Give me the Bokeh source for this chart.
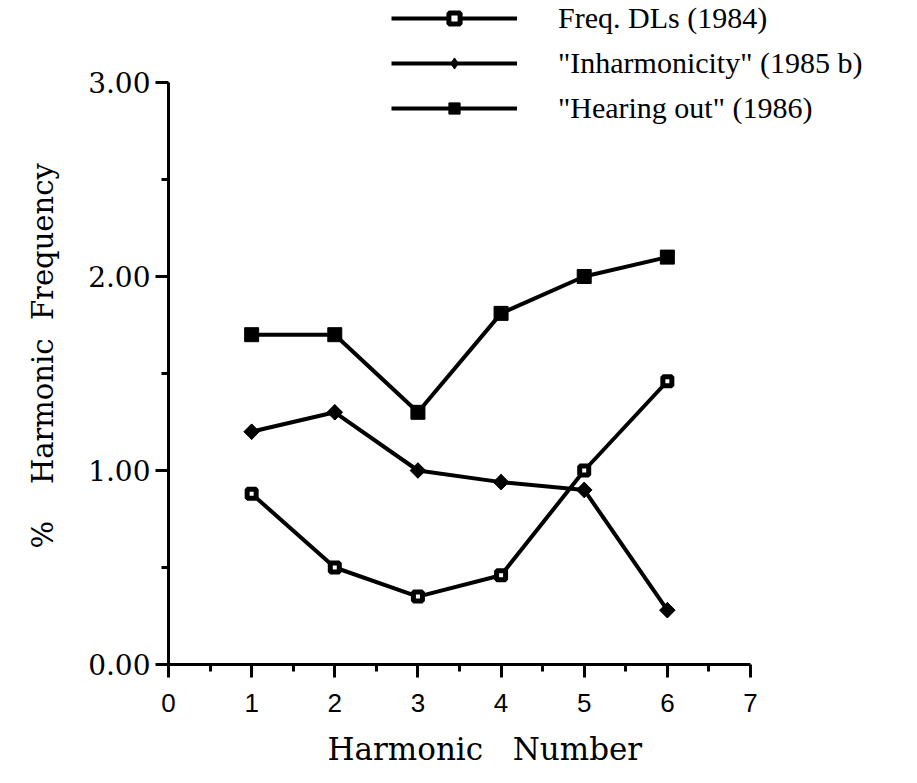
import math

from bokeh.plotting import figure
from bokeh.models import (Range1d, FixedTicker, Legend, LegendItem, Title,
                          NumeralTickFormatter, ColumnDataSource)
from bokeh.embed import file_html
from bokeh.resources import INLINE

# Harmonic number on the x axis, percent mistuning thresholds on the y axis
harmonic = [1, 2, 3, 4, 5, 6]
freq_dls = [0.88, 0.50, 0.35, 0.46, 1.00, 1.46]
inharmonicity = [1.20, 1.30, 1.00, 0.94, 0.90, 0.28]
hearing_out = [1.70, 1.70, 1.30, 1.81, 2.00, 2.10]

series_labels = ['Freq. DLs (1984)', '"Inharmonicity" (1985 b)', '"Hearing out" (1986)']
x_ticks = [0, 1, 2, 3, 4, 5, 6, 7]
x_minor = [0.5, 1.5, 2.5, 3.5, 4.5, 5.5, 6.5]
y_ticks = [0, 1, 2, 3]
y_minor = [0.5, 1.5, 2.5]
x_title = "Harmonic\u00a0\u00a0\u00a0Number"
y_title = "%\u00a0\u00a0\u00a0\u00a0Harmonic\u00a0\u00a0Frequency"

W, H = 917, 783
LEFT, BOTTOM = 168, 119          # frame offsets in pixels
X_AXIS_END, Y_AXIS_END = 7, 3    # axes are drawn only up to these values
PX_PER_X = 582 / 7               # frame scale, pixels per harmonic
PX_PER_Y = 582 / 3               # frame scale, pixels per percent

frame_w = W - LEFT
frame_h = H - BOTTOM

src = ColumnDataSource(dict(x=harmonic, fdl=freq_dls, inh=inharmonicity, hear=hearing_out))

# The frame reaches the top and right edges so the legend can sit above the
# plotted area; the axes themselves stop at 7 and 3.00.
p = figure(width=W, height=H, output_backend="svg", toolbar_location=None,
           title=None,
           x_range=Range1d(0, frame_w / PX_PER_X),
           y_range=Range1d(0, frame_h / PX_PER_Y),
           min_border_left=LEFT, min_border_right=0,
           min_border_top=0, min_border_bottom=BOTTOM)
p.outline_line_color = None
p.xgrid.visible = False
p.ygrid.visible = False
p.background_fill_color = "white"
p.border_fill_color = "white"

LW = 4

r1l = p.line("x", "fdl", source=src, line_color="black", line_width=LW)
r1m = p.scatter("x", "fdl", source=src, marker="square", size=9,
                fill_color="white", line_color="black", line_width=5)

r2l = p.line("x", "inh", source=src, line_color="black", line_width=LW)
# a square turned 45 degrees gives the broad diamond; the narrower diamond
# marker inside it is the one the legend shows
p.scatter("x", "inh", source=src, marker="square", size=11, angle=math.pi / 4,
          fill_color="black", line_color="black", line_width=1)
r2m = p.scatter("x", "inh", source=src, marker="diamond", size=15,
                fill_color="black", line_color="black", line_width=1)

r3l = p.line("x", "hear", source=src, line_color="black", line_width=LW)
r3m = p.scatter("x", "hear", source=src, marker="square", size=14,
                fill_color="black", line_color="black", line_width=1)

# axes
for ax in (p.xaxis[0], p.yaxis[0]):
    ax.axis_line_width = 3
    ax.axis_line_color = "black"
    ax.major_tick_line_width = 3
    ax.minor_tick_line_width = 3
    ax.major_tick_line_color = "black"
    ax.minor_tick_line_color = "black"
    ax.major_tick_in = 0
    ax.minor_tick_in = 0
    ax.major_tick_out = 13
    ax.minor_tick_out = 7
    ax.major_label_text_color = "black"

p.xaxis.bounds = (0, X_AXIS_END)
p.xaxis.ticker = FixedTicker(ticks=x_ticks, minor_ticks=x_minor)
p.xaxis.major_label_text_font = "Liberation Sans"
p.xaxis.major_label_text_font_size = "26px"
p.xaxis.major_label_standoff = 16

p.yaxis.bounds = (0, Y_AXIS_END)
p.yaxis.ticker = FixedTicker(ticks=y_ticks, minor_ticks=y_minor)
p.yaxis.formatter = NumeralTickFormatter(format="0.00")
p.yaxis.major_label_text_font = "DejaVu Serif"
p.yaxis.major_label_text_font_size = "28px"
p.yaxis.major_label_standoff = 5

# axis titles, placed along the drawn axes rather than the whole frame
xt = Title(text=x_title, align="left", text_font="DejaVu Serif",
           text_font_size="31px", text_font_style="normal", text_color="black",
           standoff=29, offset=159)
p.add_layout(xt, "below")

yt = Title(text=y_title, align="left", vertical_align="top", text_font="DejaVu Serif",
           text_font_size="29px", text_font_style="normal", text_color="black",
           standoff=47, offset=116)
p.add_layout(yt, "left")

legend = Legend(
    items=[
        LegendItem(label=series_labels[0], renderers=[r1l, r1m]),
        LegendItem(label=series_labels[1], renderers=[r2l, r2m]),
        LegendItem(label=series_labels[2], renderers=[r3l, r3m]),
    ],
    location=(223, 539),
    orientation="vertical",
    glyph_width=126,
    glyph_height=28,
    label_height=30,
    label_standoff=41,
    spacing=11,
    padding=0,
    margin=0,
    border_line_color=None,
    background_fill_alpha=0,
    label_text_font="Liberation Serif",
    label_text_font_size="30px",
    label_text_color="black",
)
p.add_layout(legend, "center")

with open("out.html", "w") as f:
    f.write(file_html(p, INLINE))
